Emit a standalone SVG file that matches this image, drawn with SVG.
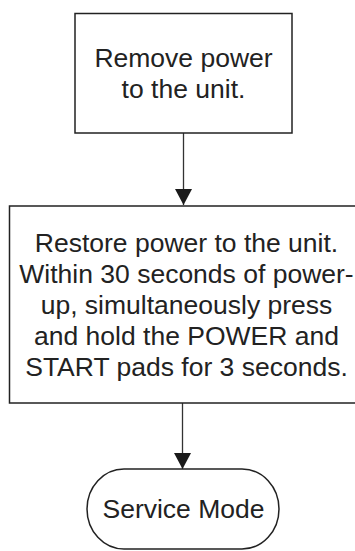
<svg xmlns="http://www.w3.org/2000/svg" width="355" height="551" viewBox="0 0 355 551">
<style>
.box{fill:#fff;stroke:#222;stroke-width:1.5}
.t{font-family:"Liberation Sans",Arial,sans-serif;font-size:26.5px;fill:#222;text-anchor:middle}
.ln{stroke:#333;stroke-width:1.3;fill:none}
</style>
<defs>
<marker id="ah" markerUnits="userSpaceOnUse" markerWidth="18" markerHeight="17" refX="16" refY="8.5" orient="auto">
<path d="M0,0 L16,8.5 L0,17 Z" fill="#1a1a1a"/>
</marker>
</defs>
<rect width="355" height="551" fill="#fff"/>
<g id="connectors">
<line class="ln" x1="183.5" y1="133" x2="183.5" y2="205" marker-end="url(#ah)"/>
<line class="ln" x1="182.5" y1="403" x2="182.5" y2="469" marker-end="url(#ah)"/>
</g>
<g id="node-remove">
<rect class="box" x="75" y="13.5" width="217" height="119.5"/>
<text class="t" x="183.5" y="67">Remove power</text>
<text class="t" x="183.5" y="98">to the unit.</text>
</g>
<g id="node-restore">
<rect class="box" x="9.5" y="206" width="365" height="197"/>
<text class="t" x="186.5" y="252">Restore power to the unit.</text>
<text class="t" x="186.5" y="283">Within 30 seconds of power-</text>
<text class="t" x="186.5" y="314">up, simultaneously press</text>
<text class="t" x="186.5" y="345">and hold the POWER and</text>
<text class="t" x="186.5" y="376">START pads for 3 seconds.</text>
</g>
<g id="node-service">
<rect class="box" x="87" y="469" width="192" height="80" rx="37" ry="40"/>
<text class="t" x="183.5" y="518">Service Mode</text>
</g>
</svg>
